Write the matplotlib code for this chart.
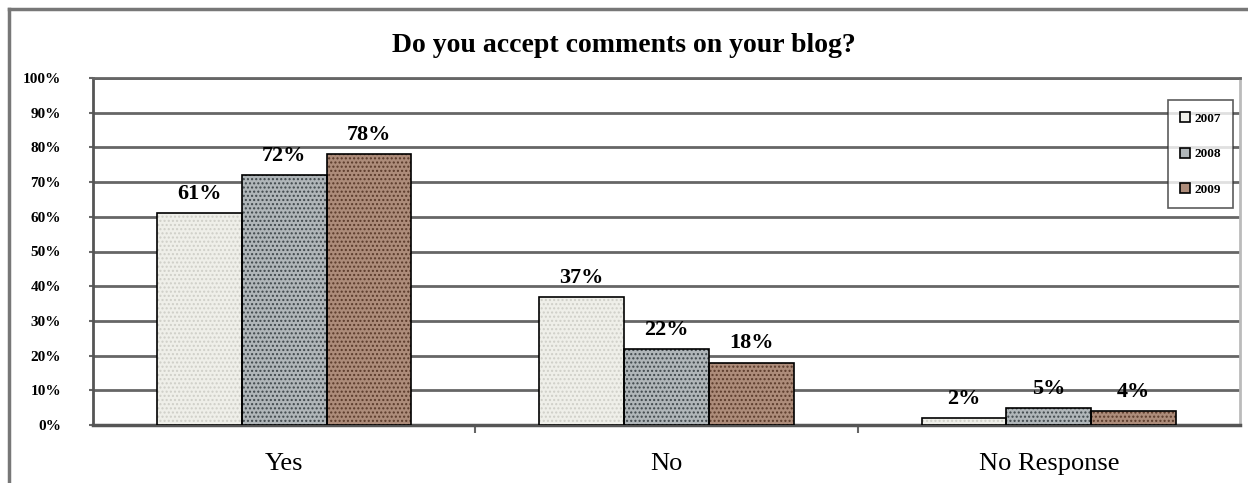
import matplotlib
matplotlib.use("Agg")
import matplotlib.pyplot as plt
from matplotlib.lines import Line2D
import numpy as np

categories = ["Yes", "No", "No Response"]
series_names = ["2007", "2008", "2009"]
v2007 = [61, 37, 2]
v2008 = [72, 22, 5]
v2009 = [78, 18, 4]
yticks = [0, 10, 20, 30, 40, 50, 60, 70, 80, 90, 100]
title = "Do you accept comments on your blog?"

faces = ["#efefe9", "#b0b6b9", "#ad8c7a"]
hatchc = ["#cfcfc8", "#3f474b", "#5a3a2a"]

plt.rcParams['font.family'] = ['Liberation Serif', 'DejaVu Serif']
plt.rcParams['hatch.linewidth'] = 1.0

fig = plt.figure(figsize=(12.48, 4.83), dpi=100)
ax = fig.add_axes([93/1248, 1-425/483, (1240-93)/1248, (425-78)/483])

x = np.arange(len(categories))
w = 0.222
allv = [v2007, v2008, v2009]
for i, vals in enumerate(allv):
    pos = x + (i-1)*w
    ax.bar(pos, vals, w, color=faces[i], edgecolor=hatchc[i], hatch='....', linewidth=0, zorder=3)
    ax.bar(pos, vals, w, fill=False, edgecolor='black', linewidth=1.2, zorder=4, label=series_names[i])
    for p, v in zip(pos, vals):
        ax.text(p, v + 5.5, f"{v}%", ha='center', va='center', fontsize=16, fontweight='bold', zorder=5)

ax.set_xlim(-0.5, 2.5)
ax.set_ylim(0, 100)
ax.set_yticks(yticks)
ax.set_yticklabels([f"{t}%" for t in yticks], fontsize=11, fontweight='bold')
ax.yaxis.grid(True, color='#666666', linewidth=2.0, zorder=1)
ax.set_axisbelow(True)
ax.set_xticks(x)
ax.set_xticklabels(categories, fontsize=19)
ax.set_xticks([0.5, 1.5], minor=True)
ax.tick_params(axis='x', which='major', length=0, pad=20)
ax.tick_params(axis='x', which='minor', length=6, width=1.5, color='#666666')
ax.tick_params(axis='y', length=3, width=1.5, color='#666666', pad=20)

ax.spines['left'].set_color('#555555')
ax.spines['left'].set_linewidth(2.0)
ax.spines['bottom'].set_color('#555555')
ax.spines['bottom'].set_linewidth(2.5)
ax.spines['top'].set_color('#666666')
ax.spines['top'].set_linewidth(2.0)
ax.spines['right'].set_color('#bbbbbb')
ax.spines['right'].set_linewidth(2.0)

fig.text(0.5, 1-45/483, title, ha='center', va='center', fontsize=20, fontweight='bold')

leg = ax.legend(loc='upper left', bbox_to_anchor=((1168-93)/(1240-93), 1-(100-78)/(425-78)),
                frameon=True, fancybox=False, prop={'weight': 'bold', 'size': 9.5},
                handlelength=0.8, handleheight=0.8, labelspacing=1.75, borderpad=0.9,
                handletextpad=0.3, borderaxespad=0)
leg.get_frame().set_edgecolor('#333333')
leg.get_frame().set_linewidth(1.2)
for i, h in enumerate(leg.legend_handles):
    h.set_facecolor(faces[i])
    h.set_fill(True)
    h.set_edgecolor('black')
leg.set_zorder(10)

fig.add_artist(Line2D([9/1248, 9/1248], [0, 1-9/483], color='#777777', linewidth=2.5))
fig.add_artist(Line2D([9/1248, 1], [1-9/483, 1-9/483], color='#777777', linewidth=2.5))

fig.savefig("out.png", dpi=100)
